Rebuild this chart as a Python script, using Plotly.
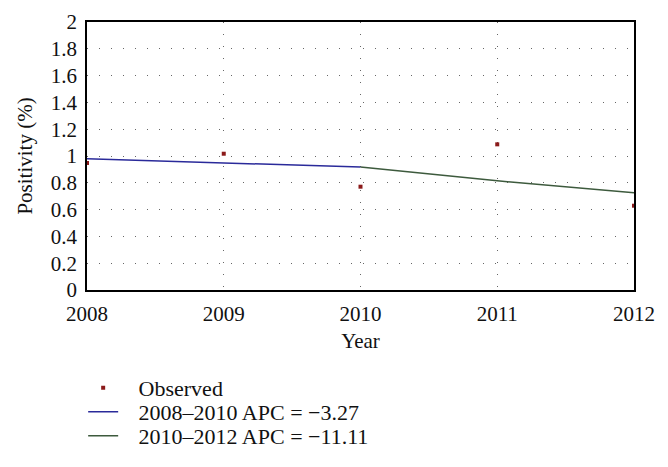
import plotly.graph_objects as go

years = [2008, 2009, 2010, 2011, 2012]
observed = [0.948, 1.017, 0.771, 1.087, 0.629]

seg1_years = [2008, 2009, 2010]
seg1_values = [0.980, 0.948, 0.917]
seg2_years = [2010, 2011, 2012]
seg2_values = [0.917, 0.815, 0.725]

y_ticks = [0, 0.2, 0.4, 0.6, 0.8, 1, 1.2, 1.4, 1.6, 1.8, 2]
y_tick_labels = ["0", "0.2", "0.4", "0.6", "0.8", "1", "1.2", "1.4", "1.6", "1.8", "2"]

legend_names = ["Observed", "2008\u20132010 APC = \u22123.27", "2010\u20132012 APC = \u221211.11"]
pad = "\u00a0\u00a0\u2009"

font_family = "Liberation Serif, DejaVu Serif, serif"

fig = go.Figure()
fig.add_trace(go.Scatter(
    x=years, y=observed, mode="markers", name=pad + legend_names[0],
    marker=dict(symbol="square", size=4, color="#8b1a1a", line=dict(width=0)),
    cliponaxis=False, legend="legend",
))
fig.add_trace(go.Scatter(
    x=seg1_years, y=seg1_values, mode="lines", name=pad + legend_names[1],
    line=dict(color="#2a2a9a", width=1.5), legend="legend2",
))
fig.add_trace(go.Scatter(
    x=seg2_years, y=seg2_values, mode="lines", name=pad + legend_names[2],
    line=dict(color="#3d5a3d", width=1.5), legend="legend3",
))

def leg(yc):
    return dict(
        x=-0.007, y=yc, xanchor="left", yanchor="middle", yref="container",
        bgcolor="rgba(0,0,0,0)", font=dict(size=22, family=font_family),
        itemwidth=30,
    )

fig.update_layout(
    width=668, height=467,
    margin=dict(l=87, r=34, t=22, b=177),
    paper_bgcolor="white", plot_bgcolor="white",
    font=dict(family=font_family, size=21, color="#111"),
    showlegend=True,
    legend=leg(1 - 388 / 467),
    legend2=leg(1 - 412 / 467),
    legend3=leg(1 - 436 / 467),
    xaxis=dict(
        range=[2008, 2012], tickvals=years, ticktext=[str(y) for y in years],
        showgrid=True, gridcolor="#666", griddash="1px,11px", gridwidth=1,
        showline=True, linecolor="black", linewidth=1.5, mirror=True,
        ticks="", zeroline=False, automargin=False, ticklabelstandoff=4,
        title=dict(text="Year", standoff=8, font=dict(size=21)),
    ),
    yaxis=dict(
        range=[0, 2], tickvals=y_ticks, ticktext=y_tick_labels,
        showgrid=True, gridcolor="#666", griddash="1px,11px", gridwidth=1,
        showline=True, linecolor="black", linewidth=1.5, mirror=True,
        ticks="", zeroline=False, automargin=False, ticklabelstandoff=4,
        title=dict(text="Positivity (%)", standoff=12, font=dict(size=21)),
    ),
)

fig.write_html("out.html", post_script="document.body.style.margin='0';",
               config={"displayModeBar": False})
